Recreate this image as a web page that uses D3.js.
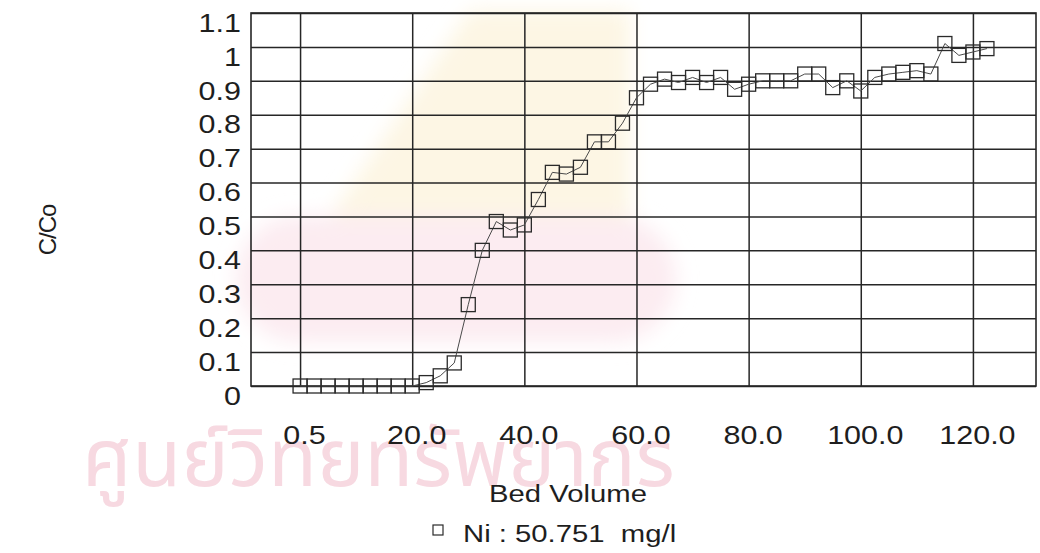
<!DOCTYPE html>
<html>
<head>
<meta charset="utf-8">
<script src="https://cdn.jsdelivr.net/npm/d3@7"></script>
<style>
  html, body { margin: 0; padding: 0; background: #ffffff; }
  svg { display: block; }
  text { font-family: "Liberation Sans", Arial, sans-serif; fill: #1e1e1e; }
</style>
</head>
<body>
<script>
// Bed volume at each sampling point (category axis)
const bedVolume = [0.5, 2.5, 5, 7.5, 10, 12.5, 15, 17.5, 20, 22.5,
  25, 27.5, 30, 32.5, 35, 37.5, 40, 42.5, 45, 47.5,
  50, 52.5, 55, 57.5, 60, 62.5, 65, 67.5, 70, 72.5,
  75, 77.5, 80, 82.5, 85, 87.5, 90, 92.5, 95, 97.5,
  100, 102.5, 105, 107.5, 110, 112.5, 115, 117.5, 120, 122.5];

// C/Co for Ni at each bed volume
const niRatio = [0, 0, 0, 0, 0, 0, 0, 0, 0, 0.01,
  0.03, 0.068, 0.24, 0.40, 0.485, 0.46, 0.475, 0.55, 0.63, 0.625,
  0.645, 0.72, 0.72, 0.775, 0.85, 0.89, 0.905, 0.895, 0.91, 0.895,
  0.91, 0.875, 0.89, 0.90, 0.90, 0.90, 0.92, 0.92, 0.88, 0.90,
  0.87, 0.91, 0.92, 0.925, 0.93, 0.92, 1.01, 0.975, 0.985, 0.995];

const yTickValues = [0, 0.1, 0.2, 0.3, 0.4, 0.5, 0.6, 0.7, 0.8, 0.9, 1.0, 1.1];
const yTickLabels = ["0", "0.1", "0.2", "0.3", "0.4", "0.5", "0.6", "0.7", "0.8", "0.9", "1", "1.1"];
const xTickValues = [0.5, 20, 40, 60, 80, 100, 120];
const xTickLabels = ["0.5", "20.0", "40.0", "60.0", "80.0", "100.0", "120.0"];

const seriesLabel = "Ni : 50.751  mg/l";
const xTitle = "Bed Volume";
const yTitle = "C/Co";

const W = 1040, H = 553;
const plot = { left: 251, right: 1036, top: 13, bottom: 386 };
const stretch = 1.22;
const gridColor = "#262626";

const svg = d3.select("body").append("svg")
  .attr("width", W).attr("height", H);

svg.append("defs").append("filter")
  .attr("id", "soft")
  .attr("x", "-20%").attr("y", "-20%").attr("width", "140%").attr("height", "140%")
  .append("feGaussianBlur").attr("stdDeviation", 10);

// faint background watermark
const wm = svg.append("g").attr("class", "watermark");
const blobs = wm.append("g").attr("filter", "url(#soft)");
blobs.append("polygon")
  .attr("points", "320,232 470,10 630,10 630,232")
  .attr("fill", "#fdf6e4");
blobs.append("rect")
  .attr("x", 236).attr("y", 216).attr("width", 440).attr("height", 126)
  .attr("rx", 63).attr("fill", "#fcecf1");
wm.append("text")
  .attr("x", 82).attr("y", 486)
  .style("font-family", "'Noto Sans Thai', 'Noto Sans', 'DejaVu Sans', sans-serif")
  .style("font-size", "80px")
  .style("fill", "#f7d9e1")
  .text("ศูนย์วิทยทรัพยากร");

const x = d3.scalePoint()
  .domain(bedVolume)
  .range([plot.left, plot.right])
  .padding(3.5);

const y = d3.scaleLinear()
  .domain([0, 1.1])
  .range([plot.bottom, plot.top]);

// horizontal gridlines + y tick labels
const yAxis = svg.append("g")
  .attr("transform", `translate(${plot.left},0)`)
  .call(d3.axisLeft(y)
    .tickValues(yTickValues)
    .tickFormat((d, i) => yTickLabels[i])
    .tickSize(-(plot.right - plot.left))
    .tickPadding(10));
yAxis.select(".domain").remove();
yAxis.selectAll(".tick line").attr("stroke", gridColor).attr("stroke-width", 1.5);
yAxis.selectAll(".tick text")
  .attr("x", -10 / stretch)
  .attr("dy", "0.73em")
  .attr("transform", `scale(${stretch},1)`)
  .style("font-size", "25px")
  .style("fill", "#1e1e1e");

// vertical gridlines + x tick labels
const xAxis = svg.append("g")
  .attr("transform", `translate(0,${plot.bottom})`)
  .call(d3.axisBottom(x)
    .tickValues(xTickValues)
    .tickFormat((d, i) => xTickLabels[i])
    .tickSize(-(plot.bottom - plot.top))
    .tickPadding(40));
xAxis.select(".domain").remove();
xAxis.selectAll(".tick line").attr("stroke", gridColor).attr("stroke-width", 1.5);
xAxis.selectAll(".tick text")
  .attr("x", 4 / stretch)
  .attr("transform", `scale(${stretch},1)`)
  .style("font-size", "25px")
  .style("fill", "#1e1e1e");

// plot frame
svg.append("rect")
  .attr("x", plot.left).attr("y", plot.top)
  .attr("width", plot.right - plot.left)
  .attr("height", plot.bottom - plot.top)
  .attr("fill", "none")
  .attr("stroke", gridColor)
  .attr("stroke-width", 1.6);

const points = bedVolume.map((bv, i) => ({ bv, v: niRatio[i] }));

// connecting line
svg.append("path")
  .datum(points)
  .attr("fill", "none")
  .attr("stroke", "#4a4a4a")
  .attr("stroke-width", 1)
  .attr("d", d3.line().x(d => x(d.bv)).y(d => y(d.v)));

// hollow square markers
const ms = 14;
svg.append("g").selectAll("rect")
  .data(points)
  .join("rect")
  .attr("x", d => x(d.bv) - ms / 2)
  .attr("y", d => y(d.v) - ms / 2)
  .attr("width", ms).attr("height", ms)
  .attr("fill", "none")
  .attr("stroke", "#2a2a2a")
  .attr("stroke-width", 1.3);

// axis titles
svg.append("text")
  .attr("transform", `translate(${568},502) scale(${stretch},1)`)
  .attr("text-anchor", "middle")
  .style("font-size", "24px")
  .text(xTitle);

svg.append("text")
  .attr("transform", "translate(56,230) rotate(-90)")
  .attr("text-anchor", "middle")
  .style("font-size", "24px")
  .style("letter-spacing", "-1px")
  .text(yTitle);

// legend
const lg = svg.append("g").attr("transform", "translate(433,525)");
lg.append("rect")
  .attr("x", 0).attr("y", 0).attr("width", 10).attr("height", 10)
  .attr("fill", "none").attr("stroke", "#2a2a2a").attr("stroke-width", 1.2);
lg.append("text")
  .attr("transform", `translate(30,17) scale(${stretch},1)`)
  .style("font-size", "24px")
  .style("white-space", "pre")
  .text(seriesLabel);
</script>
</body>
</html>
